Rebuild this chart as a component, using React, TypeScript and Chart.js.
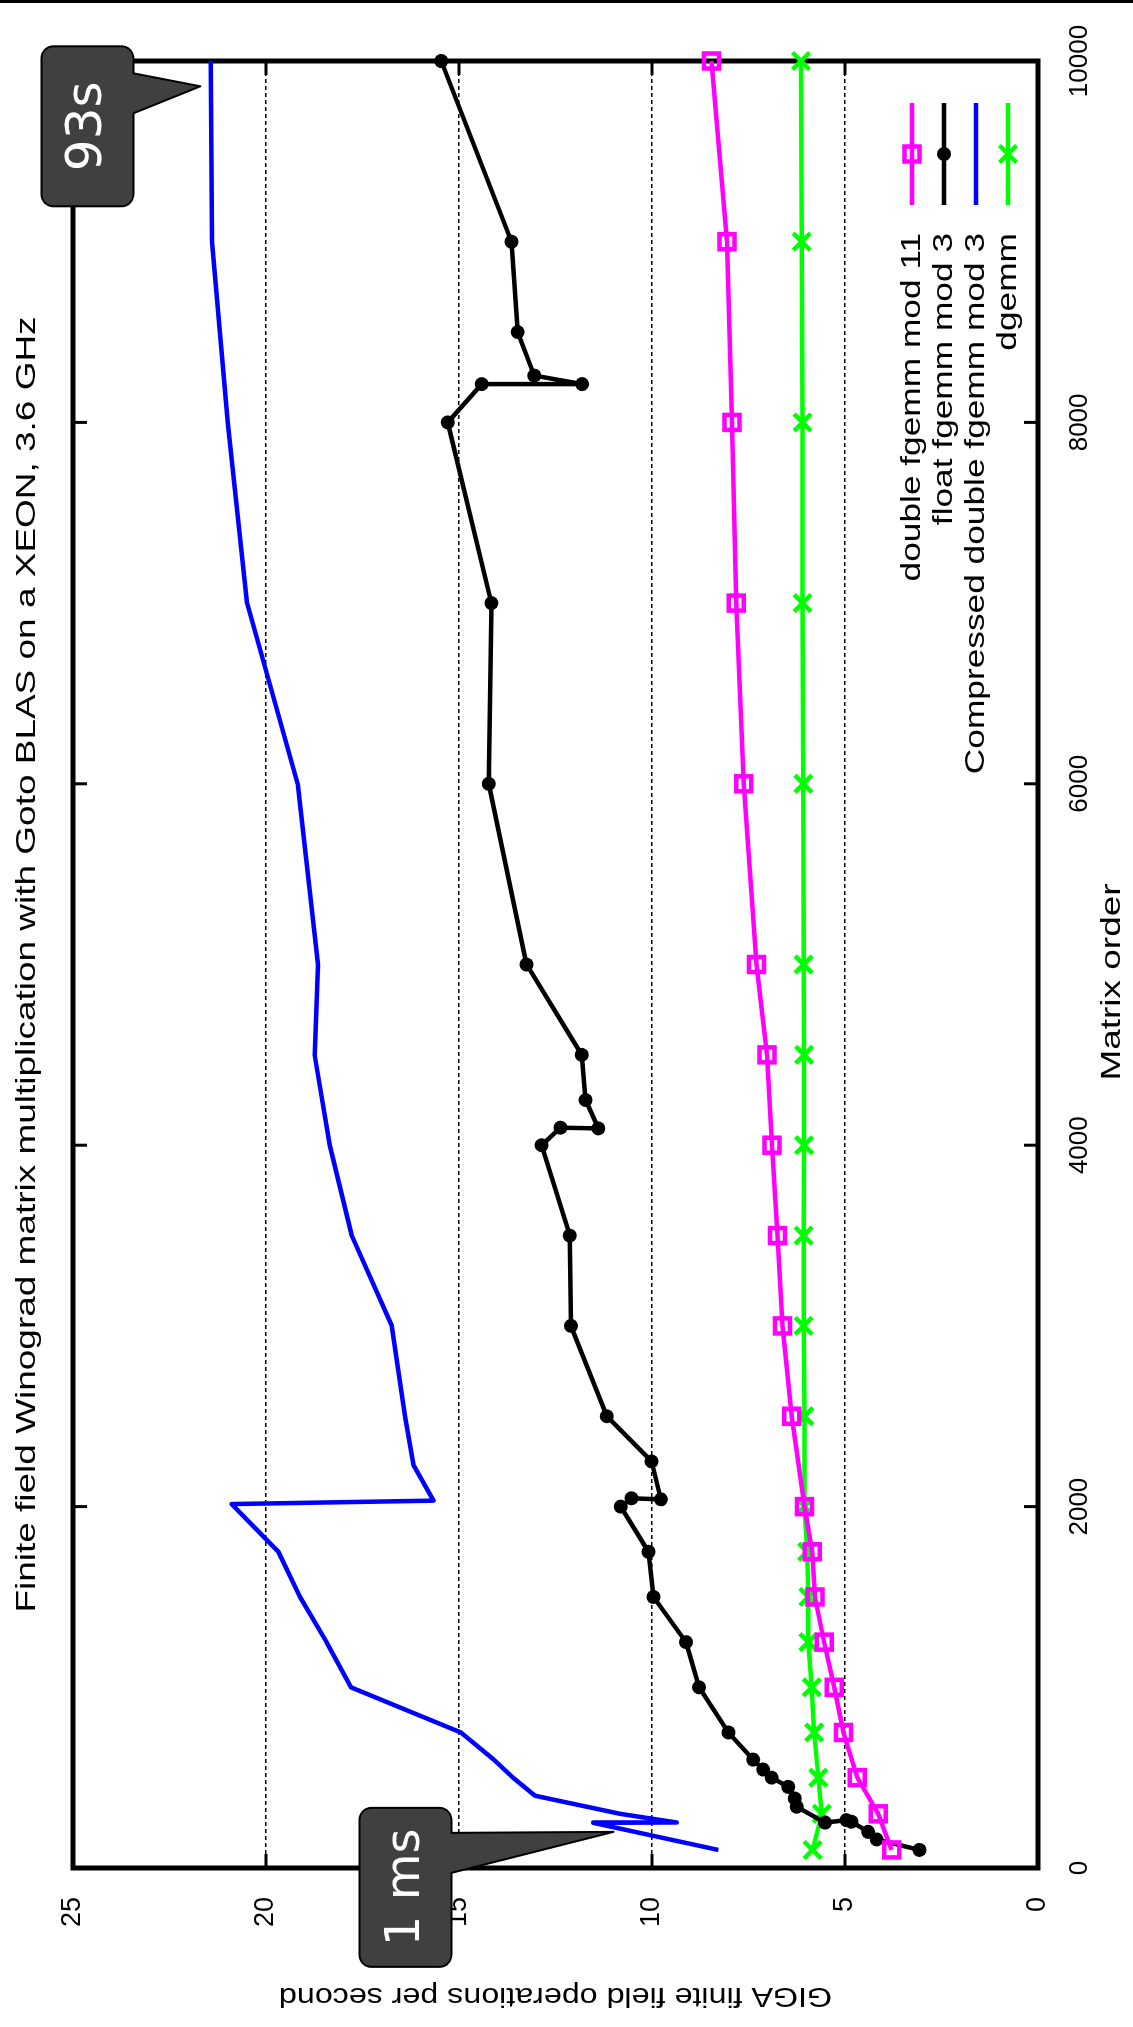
import React, { useEffect, useRef } from "react";
import { Chart, registerables } from "chart.js";

Chart.register(...registerables);

// Landscape drawing surface; the wrapper turns it a quarter-turn counter-clockwise.
const W = 2027;
const H = 1133;

const orderTicks = [0, 2000, 4000, 6000, 8000, 10000];
const rateTicks = [0, 5, 10, 15, 20, 25];

const seriesNames = [
  "double fgemm mod 11",
  "float fgemm mod 3",
  "Compressed double fgemm mod 3",
  "dgemm",
];

// double fgemm mod 11
const doubleX = [100, 300, 500, 750, 1000, 1250, 1500, 1750, 2000, 2500, 3000, 3500, 4000, 4500, 5000, 6000, 7000, 8000, 9000, 10000];
const doubleY = [3.79, 4.14, 4.68, 5.04, 5.28, 5.54, 5.78, 5.85, 6.05, 6.38, 6.62, 6.75, 6.89, 7.02, 7.29, 7.62, 7.82, 7.93, 8.06, 8.46];

// float fgemm mod 3
const floatX = [100, 158, 200, 256, 265, 251, 339, 385, 449, 500, 545, 600, 750, 1000, 1250, 1500, 1750, 2000, 2046, 2040, 2250, 2500, 3000, 3500, 4000, 4097, 4093, 4250, 4500, 5000, 6000, 7000, 8000, 8212, 8212, 8259, 8500, 9000, 10000];
const floatY = [3.07, 4.18, 4.4, 4.83, 4.96, 5.52, 6.25, 6.3, 6.47, 6.9, 7.12, 7.38, 8.02, 8.78, 9.12, 9.96, 10.09, 10.81, 10.53, 9.77, 10.01, 11.17, 12.1, 12.13, 12.86, 12.37, 11.39, 11.72, 11.82, 13.25, 14.23, 14.16, 15.29, 14.41, 11.81, 13.05, 13.48, 13.64, 15.46];

// Compressed double fgemm mod 3
const compressedX = [100, 250, 252, 300, 400, 500, 600, 750, 1000, 1250, 1500, 1750, 2014, 2033, 2230, 2500, 3000, 3500, 4000, 4500, 5000, 6000, 7000, 8000, 9000, 10000];
const compressedY = [8.28, 11.52, 9.36, 10.83, 13.03, 13.6, 14.1, 14.95, 17.8, 18.43, 19.12, 19.68, 20.89, 15.66, 16.18, 16.4, 16.74, 17.78, 18.35, 18.74, 18.65, 19.18, 20.49, 20.99, 21.4, 21.43];

// dgemm
const dgemmX = [100, 300, 500, 750, 1000, 1250, 1500, 1750, 2000, 2500, 3000, 3500, 4000, 4500, 5000, 6000, 7000, 8000, 9000, 10000];
const dgemmY = [5.84, 5.6, 5.69, 5.8, 5.86, 5.95, 5.95, 5.98, 6.05, 6.05, 6.07, 6.07, 6.06, 6.06, 6.07, 6.08, 6.1, 6.1, 6.12, 6.14];

// Timing notes attached to the compressed curve
const noteLabels = ["1 ms", "93s"];
const noteX = [200, 9860];
const noteY = [11.0, 21.7];

const titleText = "Finite field Winograd matrix multiplication with Goto BLAS on a XEON, 3.6 GHz";
const xTitle = "Matrix order";
const yTitle = "GIGA finite field operations per second";

const SANS = "'Liberation Sans', Arial, Helvetica, sans-serif";

const pts = (xs: number[], ys: number[]) => xs.map((x, i) => ({ x, y: ys[i] }));

function stretchedText(
  ctx: CanvasRenderingContext2D,
  text: string,
  x: number,
  y: number,
  size: number,
  sx: number,
  align: CanvasTextAlign,
  rot = 0,
  family = SANS,
  color = "#000"
) {
  ctx.save();
  ctx.translate(x, y);
  if (rot) ctx.rotate(rot);
  ctx.scale(sx, 1);
  ctx.font = `${size}px ${family}`;
  ctx.fillStyle = color;
  ctx.textAlign = align;
  ctx.textBaseline = "middle";
  ctx.fillText(text, 0, 0);
  ctx.restore();
}

function marker(ctx: CanvasRenderingContext2D, kind: number, x: number, y: number, color: string) {
  ctx.save();
  ctx.strokeStyle = color;
  ctx.fillStyle = color;
  ctx.lineWidth = 4.5;
  if (kind === 0) {
    ctx.strokeRect(x - 7.5, y - 7.5, 15, 15);
  } else if (kind === 1) {
    ctx.beginPath();
    ctx.arc(x, y, 7, 0, Math.PI * 2);
    ctx.fill();
  } else if (kind === 3) {
    const d = 8.5;
    ctx.beginPath();
    ctx.moveTo(x - d, y - d);
    ctx.lineTo(x + d, y + d);
    ctx.moveTo(x + d, y - d);
    ctx.lineTo(x - d, y + d);
    ctx.stroke();
  }
  ctx.restore();
}

const COLORS = ["#ff00ff", "#000000", "#0000ff", "#00ff00"];

// Frame with inward tick marks on all four sides
const framePlugin = {
  id: "frameTicks",
  beforeDatasetsDraw(chart: any) {
    const { ctx, chartArea: a, scales } = chart;
    ctx.save();
    ctx.strokeStyle = "#000";
    ctx.lineWidth = 3;
    ctx.beginPath();
    for (const v of orderTicks) {
      const p = scales.x.getPixelForValue(v);
      ctx.moveTo(p, a.bottom);
      ctx.lineTo(p, a.bottom - 14);
      ctx.moveTo(p, a.top);
      ctx.lineTo(p, a.top + 14);
    }
    for (const v of rateTicks) {
      const p = scales.y.getPixelForValue(v);
      ctx.moveTo(a.left, p);
      ctx.lineTo(a.left + 14, p);
      ctx.moveTo(a.right, p);
      ctx.lineTo(a.right - 14, p);
    }
    ctx.stroke();
    ctx.lineWidth = 5;
    ctx.strokeRect(a.left, a.top, a.right - a.left, a.bottom - a.top);
    ctx.restore();
  },
};

// Titles, key and the two speech-bubble notes
const decorPlugin = {
  id: "decor",
  afterDraw(chart: any) {
    const { ctx, chartArea: a, scales } = chart;
    const midU = (a.left + a.right) / 2;

    stretchedText(ctx, titleText, midU, 27, 28, 1.32, "center");
    stretchedText(ctx, xTitle, 1045, a.bottom + 74, 28, 1.32, "center");
    stretchedText(ctx, yTitle, 31, (a.top + a.bottom) / 2, 28, 1.15, "center", -Math.PI / 2);

    // key
    seriesNames.forEach((name, i) => {
      const v = a.bottom - 126 + i * 32;
      ctx.save();
      ctx.strokeStyle = COLORS[i];
      ctx.lineWidth = 4.5;
      ctx.beginPath();
      ctx.moveTo(a.right - 144, v);
      ctx.lineTo(a.right - 42, v);
      ctx.stroke();
      ctx.restore();
      marker(ctx, i, a.right - 93, v, COLORS[i]);
      stretchedText(ctx, name, a.right - 172, v, 28, 1.26, "right");
    });

    // notes
    const geom = [
      { l: -135, r: 24, t: -254, b: -162, b0: -41, b1: -1, fs: 48 },
      { l: -120, r: 40, t: -159, b: -67, b0: -27, b1: 13, fs: 50 },
    ];
    noteLabels.forEach((label, i) => {
      const tu = scales.x.getPixelForValue(noteX[i]);
      const tv = scales.y.getPixelForValue(noteY[i]);
      const g = geom[i];
      const L = tu + g.l, R = tu + g.r, T = tv + g.t, B = tv + g.b;
      const r = 12;
      ctx.save();
      ctx.beginPath();
      ctx.moveTo(L + r, T);
      ctx.lineTo(R - r, T);
      ctx.arcTo(R, T, R, T + r, r);
      ctx.lineTo(R, B - r);
      ctx.arcTo(R, B, R - r, B, r);
      ctx.lineTo(tu + g.b1, B);
      ctx.lineTo(tu, tv);
      ctx.lineTo(tu + g.b0, B);
      ctx.lineTo(L + r, B);
      ctx.arcTo(L, B, L, B - r, r);
      ctx.lineTo(L, T + r);
      ctx.arcTo(L, T, L + r, T, r);
      ctx.closePath();
      ctx.fillStyle = "#404040";
      ctx.fill();
      ctx.lineWidth = 2;
      ctx.strokeStyle = "#000";
      ctx.lineJoin = "round";
      ctx.stroke();
      ctx.restore();
      stretchedText(ctx, label, (L + R) / 2, (T + B) / 2 + 1, g.fs, 1, "center", 0, "'DejaVu Sans', sans-serif", "#ffffff");
    });
  },
};

export default function App() {
  const ref = useRef<HTMLCanvasElement>(null);

  useEffect(() => {
    if (!ref.current) return;
    const common = { borderWidth: 4.5, tension: 0, clip: false as any, borderJoinStyle: "round" as const };
    const chart = new Chart(ref.current, {
      type: "line",
      data: {
        datasets: [
          {
            ...common,
            label: seriesNames[0],
            data: pts(doubleX, doubleY),
            borderColor: COLORS[0],
            pointStyle: "rect",
            pointRadius: 10.6,
            pointBorderWidth: 4.5,
            pointBorderColor: COLORS[0],
            pointBackgroundColor: "rgba(0,0,0,0)",
          },
          {
            ...common,
            label: seriesNames[1],
            data: pts(floatX, floatY),
            borderColor: COLORS[1],
            pointStyle: "circle",
            pointRadius: 7,
            pointBorderWidth: 0,
            pointBackgroundColor: COLORS[1],
          },
          {
            ...common,
            label: seriesNames[2],
            data: pts(compressedX, compressedY),
            borderColor: COLORS[2],
            pointRadius: 0,
          },
          {
            ...common,
            label: seriesNames[3],
            data: pts(dgemmX, dgemmY),
            borderColor: COLORS[3],
            pointStyle: "crossRot",
            pointRadius: 12,
            pointBorderWidth: 4.5,
            pointBorderColor: COLORS[3],
          },
        ],
      },
      options: {
        animation: false,
        responsive: false,
        events: [],
        layout: { padding: { top: 73, right: 61, bottom: 0, left: 0 } },
        plugins: {
          legend: { display: false },
          title: { display: false },
          tooltip: { enabled: false },
        },
        scales: {
          x: {
            type: "linear",
            min: 0,
            max: 10000,
            afterBuildTicks: (s: any) => {
              s.ticks = orderTicks.map((value) => ({ value }));
            },
            afterFit: (s: any) => {
              s.height = 95;
            },
            ticks: {
              color: "#000",
              font: { family: SANS, size: 26 },
              padding: 18,
              maxRotation: 0,
              callback: (v: any) => String(v),
            },
            grid: { display: false },
            border: { display: false },
          },
          y: {
            type: "linear",
            min: 0,
            max: 25,
            afterBuildTicks: (s: any) => {
              s.ticks = rateTicks.map((value) => ({ value }));
            },
            afterFit: (s: any) => {
              s.width = 159;
            },
            ticks: {
              color: "#000",
              font: { family: SANS, size: 27 },
              padding: 29,
              callback: (v: any) => String(v),
            },
            grid: {
              drawTicks: false,
              lineWidth: 1.5,
              color: (c: any) =>
                c.tick && (c.tick.value === 0 || c.tick.value === 25) ? "rgba(0,0,0,0)" : "#000",
            },
            border: { display: false, dash: [4, 3] },
          },
        },
      },
      plugins: [framePlugin, decorPlugin],
    });
    return () => chart.destroy();
  }, []);

  return (
    <div
      style={{
        position: "absolute",
        left: 0,
        top: 0,
        width: 1133,
        height: 2027,
        overflow: "hidden",
        background: "#fff",
      }}
    >
      <div
        style={{
          position: "absolute",
          left: 0,
          top: 0,
          width: W,
          height: H,
          transformOrigin: "0 0",
          transform: `translate(0px, ${W}px) rotate(-90deg)`,
        }}
      >
        <canvas ref={ref} width={W} height={H} style={{ display: "block", width: W, height: H }} />
      </div>
      <div style={{ position: "absolute", left: 0, top: 0, width: "100%", height: 3, background: "#000" }} />
    </div>
  );
}
